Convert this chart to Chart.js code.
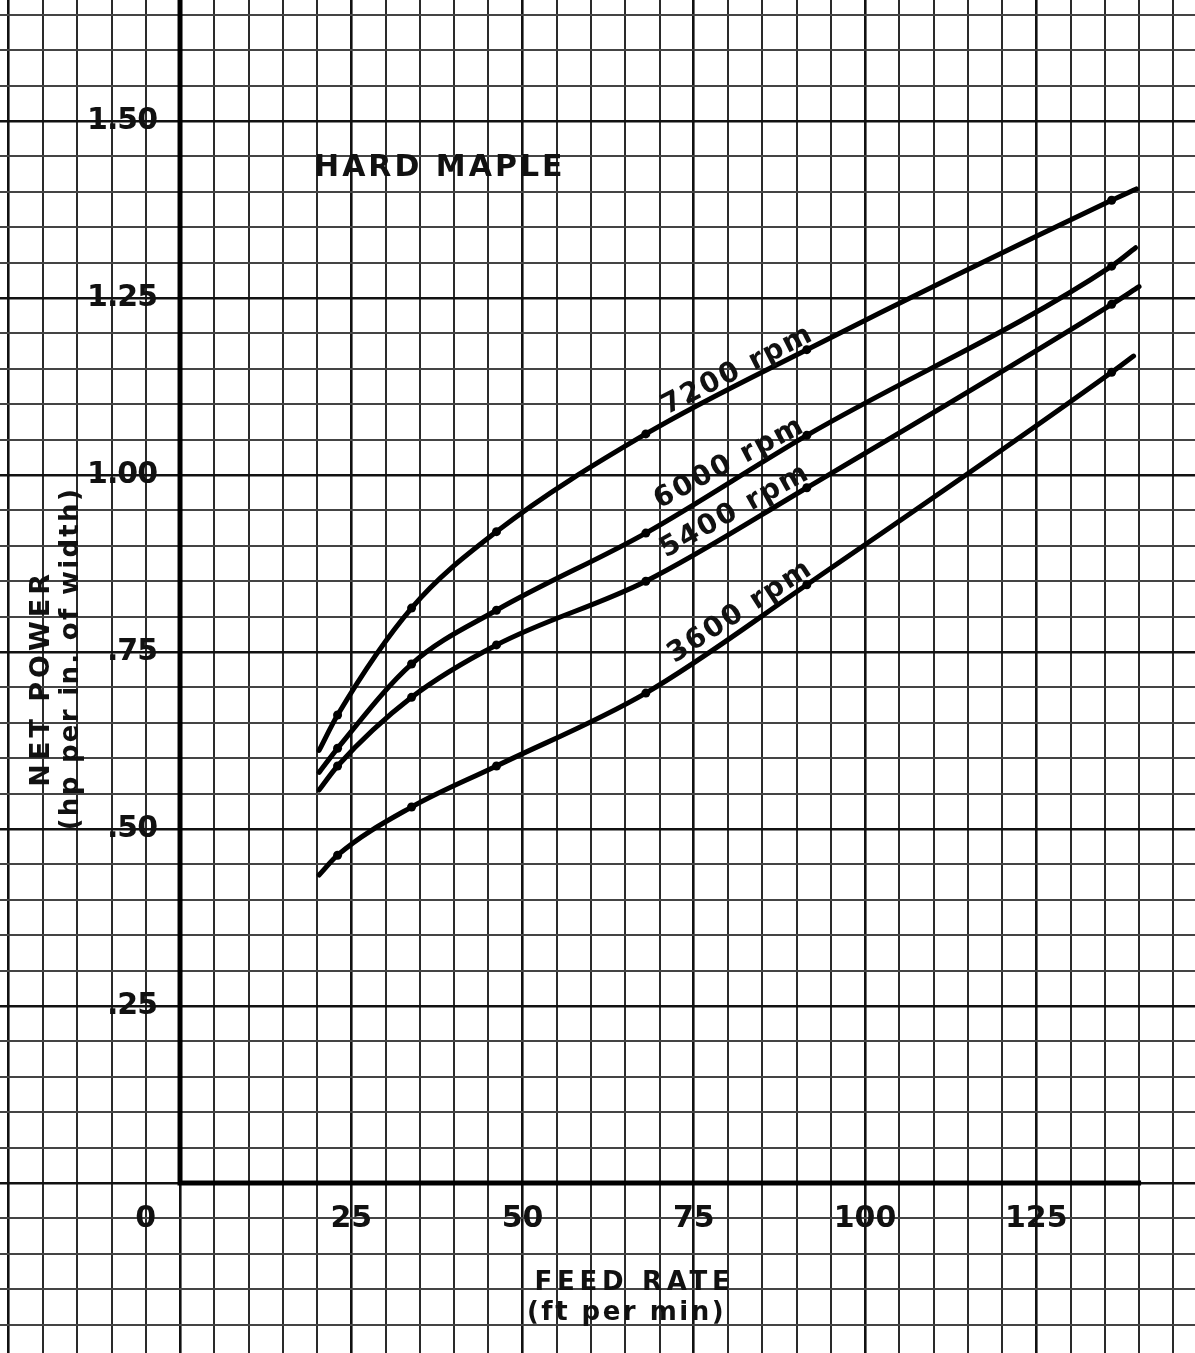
<!DOCTYPE html>
<html>
<head>
<meta charset="utf-8">
<script src="https://cdn.jsdelivr.net/npm/chart.js@4.4.1/dist/chart.umd.min.js"></script>
<style>
  html, body { margin: 0; padding: 0; background: #ffffff; }
  #wrap { width: 1195px; height: 1353px; position: relative; }
</style>
</head>
<body>
<div id="wrap"><canvas id="c"></canvas></div>
<script>
// ---------------- DATA ----------------
const feedRates = [23, 33.8, 46.2, 68, 91.5, 136];          // ft per min (measured points)
const rpm7200 = [0.661, 0.812, 0.920, 1.058, 1.177, 1.388];   // hp per in. of width
const rpm6000 = [0.614, 0.733, 0.809, 0.918, 1.056, 1.295];
const rpm5400 = [0.589, 0.686, 0.760, 0.850, 0.982, 1.241];
const rpm3600 = [0.463, 0.531, 0.589, 0.692, 0.845, 1.145];
const seriesNames = ['7200 rpm', '6000 rpm', '5400 rpm', '3600 rpm'];
// faired curve ends as drawn on the sheet
const curveStartX = [20.3, 20.3, 20.3, 20.3];
const curveStartY = [0.611, 0.580, 0.555, 0.435];
const curveEndX = [139.6, 139.5, 140.0, 139.2];
const curveEndY = [1.404, 1.321, 1.266, 1.168];
// tick labels
const xTickValues = [0, 25, 50, 75, 100, 125];
const xTickLabels = ['0', '25', '50', '75', '100', '125'];
const yTickValues = [1.50, 1.25, 1.00, 0.75, 0.50, 0.25];
const yTickLabels = ['1.50', '1.25', '1.00', '.75', '.50', '.25'];
const chartTitle = 'HARD MAPLE';
const xTitle = ['FEED RATE', '(ft per min)'];
const yTitle = ['NET POWER', '(hp per in. of width)'];

// ---------------- LAYOUT (not data) ----------------
const view = { xMin: -26.28, xMax: 148.17, yMin: -0.2401, yMax: 1.6709, xStep: 5, yStep: 0.05 };
const xAxisEnd = 140.3;
const layout = {
  title: { x: 37.7, y: 1.434 },
  xTick: { y: -0.0505, zeroShift: -5 },
  yTick: { x: -3.2 },
  xTitle: [{ x: 66.0, y: -0.141 }, { x: 65.0, y: -0.184 }],
  yTitle: [{ x: -20.2, y: 0.710 }, { x: -15.9, y: 0.739 }],
  curveLabels: [
    { x: 81.3, y: 1.147, angle: -27 },
    { x: 80.1, y: 1.016, angle: -28 },
    { x: 80.9, y: 0.948, angle: -29 },
    { x: 81.7, y: 0.806, angle: -33 }
  ]
};

const INK = '#111111';
const FONT = '"DejaVu Sans", "Liberation Sans", sans-serif';

const seriesValues = [rpm7200, rpm6000, rpm5400, rpm3600];
const datasets = seriesValues.map((vals, i) => {
  const pts = [{ x: curveStartX[i], y: curveStartY[i] }]
    .concat(feedRates.map((f, j) => ({ x: f, y: vals[j] })))
    .concat([{ x: curveEndX[i], y: curveEndY[i] }]);
  const radii = pts.map((p, k) => (k === 0 || k === pts.length - 1) ? 0 : 4.5);
  return {
    label: seriesNames[i],
    data: pts,
    borderColor: '#000',
    backgroundColor: '#000',
    borderWidth: 5,
    pointRadius: radii,
    pointHoverRadius: radii,
    pointBackgroundColor: '#000',
    pointBorderWidth: 0,
    cubicInterpolationMode: 'monotone',
    fill: false,
    borderCapStyle: 'round'
  };
});

function isMajor(v, unit) {
  const r = Math.round(v / unit);
  return r % 5 === 0;
}

function drawText(ctx, text, px, py, opts) {
  ctx.save();
  ctx.translate(px, py);
  if (opts.angle) ctx.rotate(opts.angle * Math.PI / 180);
  ctx.font = opts.font;
  ctx.fillStyle = INK;
  ctx.textAlign = opts.align || 'center';
  ctx.textBaseline = 'middle';
  const sp = opts.spacing || 0;
  try { ctx.letterSpacing = sp + 'px'; } catch (e) {}
  let dx = 0;
  if ((opts.align || 'center') === 'center') dx = sp / 2;
  else if (opts.align === 'right') dx = sp;
  ctx.fillText(text, dx, 0);
  ctx.restore();
}

const paperPlugin = {
  id: 'paper',
  beforeDatasetsDraw(chart) {
    const { ctx } = chart;
    const x = chart.scales.x, y = chart.scales.y;
    ctx.save();
    ctx.strokeStyle = '#000';
    ctx.lineWidth = 5;
    ctx.lineCap = 'butt';
    ctx.beginPath();
    const x0 = x.getPixelForValue(0), y0 = y.getPixelForValue(0);
    ctx.moveTo(x0 - 2.5, y0);
    ctx.lineTo(x.getPixelForValue(xAxisEnd), y0);
    ctx.moveTo(x0, y0 + 2.5);
    ctx.lineTo(x0, y.getPixelForValue(view.yMax));
    ctx.stroke();
    ctx.restore();
  },
  afterDatasetsDraw(chart) {
    const { ctx } = chart;
    const x = chart.scales.x, y = chart.scales.y;
    const tickFont = 'bold 30px ' + FONT;
    // x tick labels
    xTickValues.forEach((v, i) => {
      const pv = v === 0 ? v + layout.xTick.zeroShift : v;
      drawText(ctx, xTickLabels[i], x.getPixelForValue(pv), y.getPixelForValue(layout.xTick.y),
        { font: tickFont, spacing: 0 });
    });
    // y tick labels
    yTickValues.forEach((v, i) => {
      drawText(ctx, yTickLabels[i], x.getPixelForValue(layout.yTick.x), y.getPixelForValue(v),
        { font: tickFont, spacing: -1, align: 'right' });
    });
    // title
    drawText(ctx, chartTitle, x.getPixelForValue(layout.title.x), y.getPixelForValue(layout.title.y),
      { font: 'bold 30px ' + FONT, spacing: 3 });
    // x axis title
    drawText(ctx, xTitle[0], x.getPixelForValue(layout.xTitle[0].x), y.getPixelForValue(layout.xTitle[0].y),
      { font: 'bold 26px ' + FONT, spacing: 4.7 });
    drawText(ctx, xTitle[1], x.getPixelForValue(layout.xTitle[1].x), y.getPixelForValue(layout.xTitle[1].y),
      { font: 'bold 26px ' + FONT, spacing: 2.5 });
    // y axis title (rotated)
    drawText(ctx, yTitle[0], x.getPixelForValue(layout.yTitle[0].x), y.getPixelForValue(layout.yTitle[0].y),
      { font: 'bold 27px ' + FONT, spacing: 4, angle: -90 });
    drawText(ctx, yTitle[1], x.getPixelForValue(layout.yTitle[1].x), y.getPixelForValue(layout.yTitle[1].y),
      { font: 'bold 26px ' + FONT, spacing: 2.3, angle: -90 });
    // curve labels
    seriesNames.forEach((name, i) => {
      const L = layout.curveLabels[i];
      drawText(ctx, name, x.getPixelForValue(L.x), y.getPixelForValue(L.y),
        { font: 'bold 28px ' + FONT, spacing: 2, angle: L.angle });
    });
  }
};

new Chart(document.getElementById('c'), {
  type: 'line',
  data: { datasets },
  options: {
    responsive: true,
    maintainAspectRatio: false,
    animation: false,
    events: [],
    layout: { padding: 0 },
    plugins: { legend: { display: false }, tooltip: { enabled: false }, title: { display: false } },
    scales: {
      x: {
        type: 'linear',
        min: view.xMin,
        max: view.xMax,
        border: { display: false },
        ticks: { display: false, stepSize: view.xStep, includeBounds: false, maxTicksLimit: 1000 },
        grid: {
          drawTicks: false,
          color: (c) => isMajor(c.tick.value, view.xStep) ? '#111' : '#2a2a2a',
          lineWidth: (c) => isMajor(c.tick.value, view.xStep) ? 2.6 : 2
        }
      },
      y: {
        type: 'linear',
        min: view.yMin,
        max: view.yMax,
        border: { display: false },
        ticks: { display: false, stepSize: view.yStep, includeBounds: false, maxTicksLimit: 1000 },
        grid: {
          drawTicks: false,
          color: (c) => isMajor(c.tick.value, view.yStep) ? '#111' : '#444',
          lineWidth: (c) => isMajor(c.tick.value, view.yStep) ? 2.6 : 2
        }
      }
    }
  },
  plugins: [paperPlugin]
});
</script>
</body>
</html>
